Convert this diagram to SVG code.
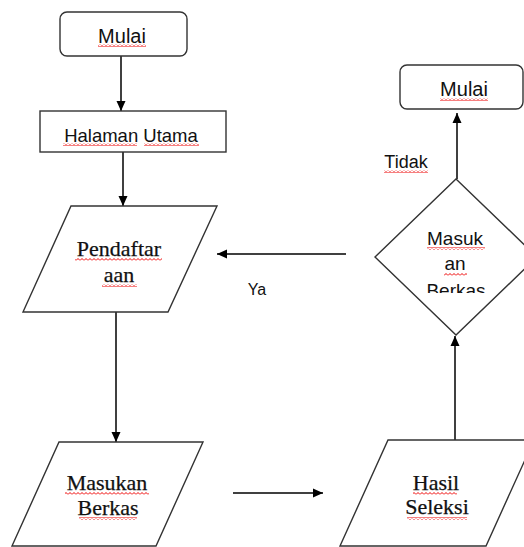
<svg xmlns="http://www.w3.org/2000/svg" width="524" height="547" viewBox="0 0 524 547">
<style>
.box{fill:#fff;stroke:#333;stroke-width:1.4}
.con{fill:none;stroke:#000;stroke-width:1.5}
.sans{font-family:"Liberation Sans",Arial,sans-serif;fill:#111}
.serif{font-family:"Liberation Serif","Times New Roman",serif;fill:#111;font-size:22px;stroke:#111;stroke-width:0.25}
.sq{fill:url(#squiggle)}
</style>
<defs>
<marker id="arr" markerUnits="userSpaceOnUse" markerWidth="10" markerHeight="10" refX="10" refY="5" orient="auto">
<path d="M0,0.5 L10,5 L0,9.5 Z" fill="#000"/>
</marker>
<pattern id="squiggle" patternUnits="userSpaceOnUse" width="4" height="3">
<path d="M0,2.5 L2,0.5 L4,2.5" fill="none" stroke="#e00" stroke-width="1"/>
</pattern>
<clipPath id="diamondClip"><rect x="370" y="170" width="160" height="123"/></clipPath>
</defs>
<rect width="524" height="547" fill="#fff"/>

<g id="connectors">
<line class="con" x1="121" y1="56" x2="121" y2="111" marker-end="url(#arr)"/>
<line class="con" x1="123" y1="152" x2="123" y2="206" marker-end="url(#arr)"/>
<line class="con" x1="346" y1="254" x2="217" y2="254" marker-end="url(#arr)"/>
<line class="con" x1="116" y1="312" x2="116" y2="442" marker-end="url(#arr)"/>
<line class="con" x1="233" y1="493" x2="323" y2="493" marker-end="url(#arr)"/>
<line class="con" x1="455" y1="440" x2="455" y2="336" marker-end="url(#arr)"/>
<line class="con" x1="457" y1="179" x2="457" y2="113" marker-end="url(#arr)"/>
<text class="sans" x="406" y="168" font-size="18" text-anchor="middle">Tidak</text>
<rect class="sq" x="384" y="170" width="44" height="3"/>
<text class="sans" x="257" y="295" font-size="16" text-anchor="middle">Ya</text>
</g>

<g id="mulai-start">
<rect class="box" x="60" y="12" width="127" height="44" rx="7"/>
<text class="sans" x="122" y="43" font-size="20" text-anchor="middle">Mulai</text>
<rect class="sq" x="98" y="44" width="48" height="3"/>
</g>

<g id="halaman-utama">
<rect class="box" x="40" y="111" width="186" height="41"/>
<text class="sans" x="131" y="142" font-size="18.5" text-anchor="middle">Halaman  Utama</text>
<rect class="sq" x="63" y="143" width="74" height="3"/>
<rect class="sq" x="144" y="143" width="55" height="3"/>
</g>

<g id="pendaftaran">
<polygon class="box" points="71,206 217,206 168,312 23,312"/>
<text class="serif" x="119" y="256" text-anchor="middle">Pendaftar</text>
<text class="serif" x="119" y="282" text-anchor="middle">aan</text>
<rect class="sq" x="75" y="258" width="87" height="3"/>
<rect class="sq" x="102" y="284" width="35" height="3"/>
</g>

<g id="masukan-berkas">
<polygon class="box" points="59,442 203,442 156,546 12,546"/>
<text class="serif" x="107" y="490" text-anchor="middle">Masukan</text>
<text class="serif" x="108" y="515" text-anchor="middle">Berkas</text>
<rect class="sq" x="65" y="492" width="84" height="3"/>
<rect class="sq" x="79" y="517" width="58" height="3"/>
</g>

<g id="hasil-seleksi">
<polygon class="box" points="388,440 534,440 486,546 340,546"/>
<text class="serif" x="436" y="490" text-anchor="middle">Hasil</text>
<text class="serif" x="437" y="514" text-anchor="middle">Seleksi</text>
<rect class="sq" x="413" y="492" width="44" height="3"/>
<rect class="sq" x="407" y="517" width="60" height="3"/>
</g>

<g id="masukan-berkas-decision">
<polygon class="box" points="456,179 537,257 456,335 375,257"/>
<g clip-path="url(#diamondClip)">
<text class="sans" x="455" y="245" font-size="19" text-anchor="middle">Masuk</text>
<text class="sans" x="455" y="270" font-size="19" text-anchor="middle">an</text>
<text class="sans" x="456" y="297" font-size="19" text-anchor="middle">Berkas</text>
</g>
<rect class="sq" x="427" y="247" width="58" height="3"/>
<rect class="sq" x="444" y="273" width="23" height="3"/>
</g>

<g id="mulai-end">
<rect class="box" x="400" y="65" width="123" height="44" rx="7"/>
<text class="sans" x="464" y="96" font-size="20" text-anchor="middle">Mulai</text>
<rect class="sq" x="440" y="98" width="48" height="3"/>
</g>
</svg>
